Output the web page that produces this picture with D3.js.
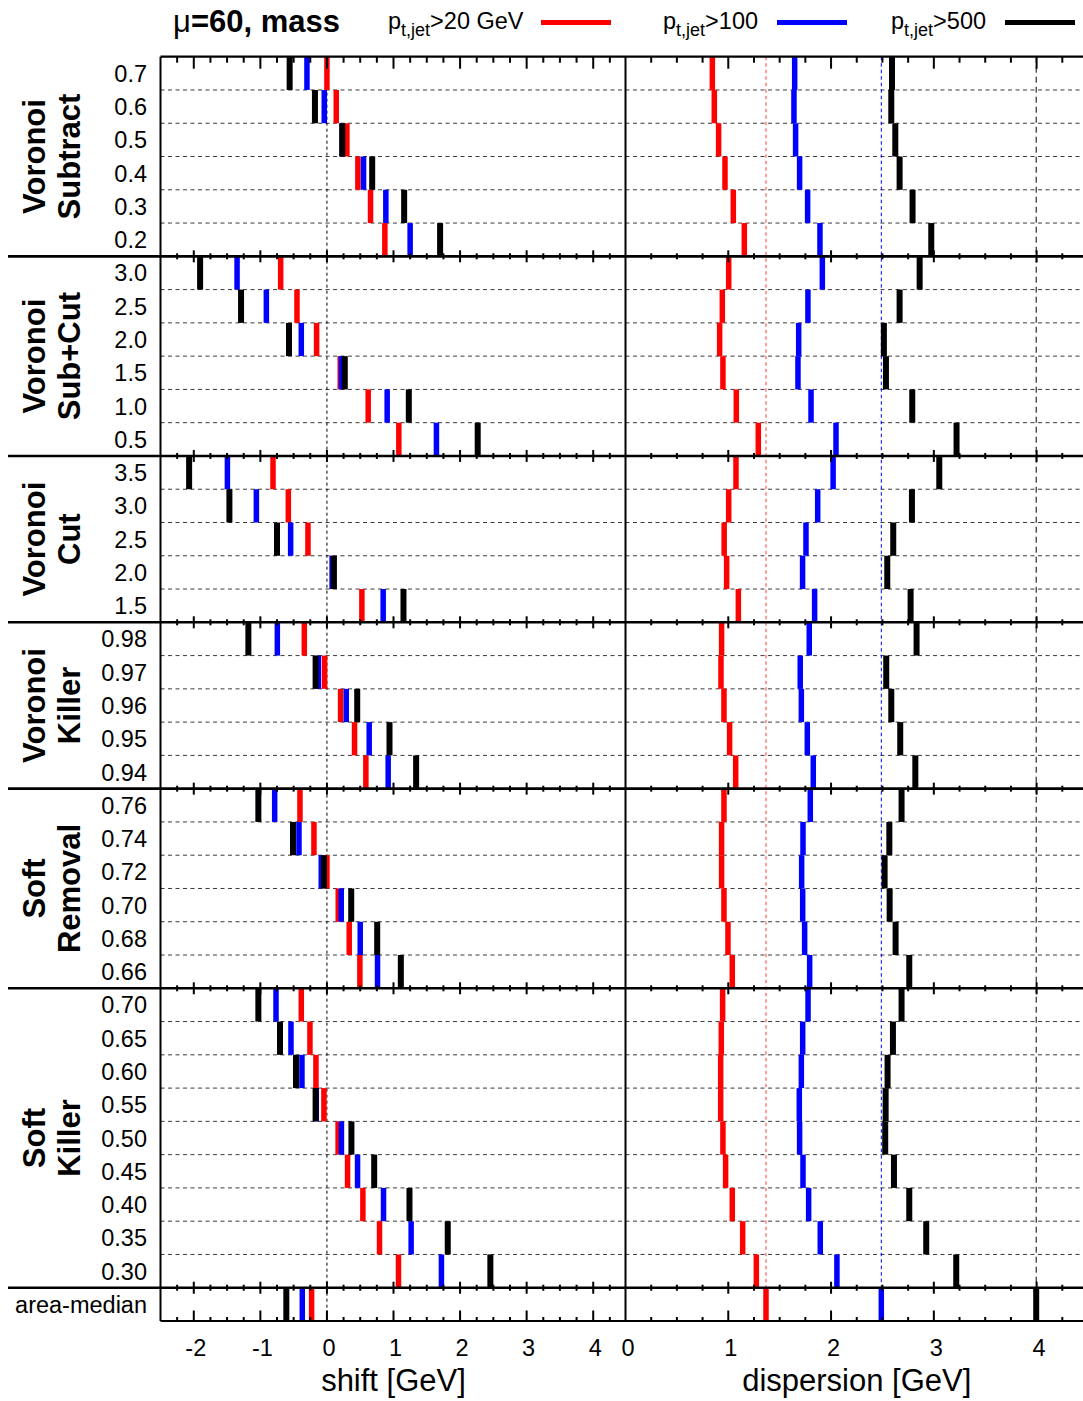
<!DOCTYPE html>
<html>
<head>
<meta charset="utf-8">
<script src="https://cdn.jsdelivr.net/npm/d3@7"></script>
<style>
  html, body { margin: 0; padding: 0; background: #fff; }
  svg { display: block; font-family: "Liberation Sans", Arial, Helvetica, sans-serif; }
</style>
</head>
<body>
<svg id="chart" width="1083" height="1401"></svg>
<script>
// ---- data -------------------------------------------------------------
const groupNames = [["Voronoi", "Subtract"], ["Voronoi", "Sub+Cut"], ["Voronoi", "Cut"],
                    ["Voronoi", "Killer"], ["Soft", "Removal"], ["Soft", "Killer"], [""]];
const groupRows = [
  ["0.7", "0.6", "0.5", "0.4", "0.3", "0.2"],
  ["3.0", "2.5", "2.0", "1.5", "1.0", "0.5"],
  ["3.5", "3.0", "2.5", "2.0", "1.5"],
  ["0.98", "0.97", "0.96", "0.95", "0.94"],
  ["0.76", "0.74", "0.72", "0.70", "0.68", "0.66"],
  ["0.70", "0.65", "0.60", "0.55", "0.50", "0.45", "0.40", "0.35", "0.30"],
  ["area-median"]
];
const seriesNames = ["20 GeV", "100", "500"];
const seriesColors = ["#ff0000", "#0000ff", "#000000"];

// shift [GeV], one value per row (rows in the order listed above)
const shiftPt20 = [0.00, 0.14, 0.30, 0.465, 0.655, 0.87,
  -0.695, -0.45, -0.155, 0.20, 0.62, 1.08,
  -0.81, -0.58, -0.285, 0.09, 0.525,
  -0.34, -0.035, 0.205, 0.415, 0.585,
  -0.405, -0.195, 0.0, 0.17, 0.335, 0.495,
  -0.385, -0.255, -0.165, -0.045, 0.168, 0.31, 0.54, 0.79, 1.075,
  -0.23];
const shiftPt100 = [-0.30, -0.04, 0.23, 0.55, 0.885, 1.25,
  -1.35, -0.91, -0.385, 0.218, 0.905, 1.645,
  -1.495, -1.06, -0.545, 0.078, 0.845,
  -0.745, -0.128, 0.29, 0.635, 0.92,
  -0.785, -0.42, -0.085, 0.215, 0.5, 0.76,
  -0.765, -0.54, -0.375, -0.16, 0.218, 0.46, 0.85, 1.265, 1.72,
  -0.37];
const shiftPt500 = [-0.56, -0.18, 0.23, 0.68, 1.16, 1.70,
  -1.905, -1.29, -0.57, 0.268, 1.23, 2.265,
  -2.07, -1.465, -0.75, 0.105, 1.15,
  -1.18, -0.17, 0.455, 0.94, 1.34,
  -1.03, -0.51, -0.045, 0.365, 0.755, 1.11,
  -1.03, -0.705, -0.465, -0.17, 0.368, 0.71, 1.24, 1.815, 2.455,
  -0.61];

// dispersion [GeV]
const dispPt20 = [0.845, 0.864, 0.906, 0.968, 1.049, 1.156,
  1.004, 0.942, 0.916, 0.948, 1.078, 1.292,
  1.075, 1.004, 0.96, 0.984, 1.098,
  0.935, 0.929, 0.958, 1.013, 1.072,
  0.958, 0.935, 0.935, 0.958, 0.997, 1.039,
  0.945, 0.932, 0.926, 0.926, 0.948, 0.974, 1.039, 1.14, 1.273,
  1.367];
const dispPt100 = [1.646, 1.639, 1.655, 1.694, 1.772, 1.892,
  1.915, 1.775, 1.685, 1.678, 1.805, 2.048,
  2.02, 1.87, 1.756, 1.723, 1.84,
  1.788, 1.70, 1.711, 1.769, 1.827,
  1.798, 1.727, 1.714, 1.724, 1.743, 1.792,
  1.776, 1.724, 1.711, 1.691, 1.694, 1.727, 1.782, 1.895, 2.057,
  2.489];
const dispPt500 = [2.593, 2.586, 2.625, 2.667, 2.793, 2.975,
  2.862, 2.667, 2.514, 2.534, 2.79, 3.221,
  3.053, 2.787, 2.605, 2.547, 2.774,
  2.832, 2.537, 2.586, 2.673, 2.82,
  2.686, 2.567, 2.521, 2.57, 2.628, 2.761,
  2.686, 2.602, 2.55, 2.531, 2.527, 2.612, 2.761, 2.926, 3.218,
  3.996];

const shiftTicks = [-2, -1, 0, 1, 2, 3, 4];
const dispTicks = [0, 1, 2, 3, 4];

// ---- layout -----------------------------------------------------------
const svg = d3.select("#chart");
const plotTop = 56.7, plotBottom = 1321;
const rowLabels = groupRows.flat();
const nRows = rowLabels.length;

const y = d3.scaleBand().domain(d3.range(nRows)).range([plotTop, plotBottom]).paddingInner(0).paddingOuter(0);
const xShift = d3.scaleLinear().domain([-2.5, 4.5]).range([160.5, 626.5]);
const xDisp = d3.scaleLinear().domain([0, 4.5]).range([625.5, 1088]);

// group boundaries (row index where each group starts)
const groupStart = [];
{ let k = 0; groupRows.forEach(g => { groupStart.push(k); k += g.length; }); }
const sepRows = groupStart.slice(1);           // separators between groups
const innerRows = d3.range(1, nRows).filter(i => !sepRows.includes(i));

// ---- dashed row grid --------------------------------------------------
svg.append("g").selectAll("line").data(innerRows).join("line")
  .attr("x1", xShift.range()[0]).attr("x2", 1083)
  .attr("y1", i => y(i)).attr("y2", i => y(i))
  .attr("stroke", "#3a3a3a").attr("stroke-width", 1).attr("stroke-dasharray", "4,3.5");

// ---- reference lines ---------------------------------------------------
const amIdx = nRows - 1;
svg.append("line")
  .attr("x1", xShift(0)).attr("x2", xShift(0))
  .attr("y1", plotTop).attr("y2", plotBottom)
  .attr("stroke", "#000").attr("stroke-width", 1).attr("stroke-dasharray", "3,3");

const refLines = [
  { v: dispPt20[amIdx], color: "#ff6a6a", dash: "3.5,3", w: 1.3 },
  { v: dispPt100[amIdx], color: "#0000ff", dash: "3.5,3", w: 1 },
  { v: dispPt500[amIdx], color: "#000000", dash: "6,4", w: 1 }
];
svg.append("g").selectAll("line").data(refLines).join("line")
  .attr("x1", d => xDisp(d.v)).attr("x2", d => xDisp(d.v))
  .attr("y1", plotTop).attr("y2", y(amIdx))
  .attr("stroke", d => d.color).attr("stroke-width", d => d.w).attr("stroke-dasharray", d => d.dash);

// ---- bars ---------------------------------------------------------------
const shiftSeries = [shiftPt20, shiftPt100, shiftPt500];
const dispSeries = [dispPt20, dispPt100, dispPt500];
const barW = [5.5, 5.5, 6];

function drawBars(series, x, cls) {
  series.forEach((vals, s) => {
    svg.append("g").attr("class", cls + s).selectAll("rect").data(vals).join("rect")
      .attr("x", v => x(v) - barW[s] / 2)
      .attr("y", (v, i) => y(i))
      .attr("width", barW[s])
      .attr("height", y.bandwidth())
      .attr("fill", seriesColors[s]);
  });
}
drawBars(shiftSeries, xShift, "shift");
drawBars(dispSeries, xDisp, "disp");

// ---- frames, separators, ticks -----------------------------------------
const frame = svg.append("g").attr("stroke", "#000");
frame.append("line").attr("x1", xShift.range()[0]).attr("x2", 1083)
  .attr("y1", plotTop).attr("y2", plotTop).attr("stroke-width", 2.2);
frame.append("line").attr("x1", xShift.range()[0]).attr("x2", 1083)
  .attr("y1", plotBottom).attr("y2", plotBottom).attr("stroke-width", 2.2);
frame.selectAll("line.sep").data(sepRows).join("line").attr("class", "sep")
  .attr("x1", 8).attr("x2", 1083)
  .attr("y1", i => y(i)).attr("y2", i => y(i)).attr("stroke-width", 2.6);
[xShift.range()[0], xDisp.range()[0]].forEach(xx => {
  frame.append("line").attr("x1", xx).attr("x2", xx)
    .attr("y1", plotTop).attr("y2", plotBottom).attr("stroke-width", 2);
});

function tickSet(x, lo, hi) {
  const out = [];
  for (let v = lo; v <= hi + 1e-9; v += 0.25) {
    const major = Math.abs(v - Math.round(v)) < 1e-9;
    out.push({ x: x(v), major });
  }
  return out;
}
const allTicks = tickSet(xShift, -2.25, 4.25).concat(tickSet(xDisp, 0.25, 4.25));
const tg = svg.append("g").attr("stroke", "#000").attr("stroke-width", 2);
// top border: inward
tg.selectAll(null).data(allTicks).join("line")
  .attr("x1", d => d.x).attr("x2", d => d.x)
  .attr("y1", plotTop).attr("y2", d => plotTop + (d.major ? 12 : 6));
// bottom border: inward
tg.selectAll(null).data(allTicks).join("line")
  .attr("x1", d => d.x).attr("x2", d => d.x)
  .attr("y1", plotBottom).attr("y2", d => plotBottom - (d.major ? 10.5 : 4));
// group separators: both sides
sepRows.forEach(i => {
  const yy = y(i);
  tg.selectAll(null).data(allTicks).join("line")
    .attr("x1", d => d.x).attr("x2", d => d.x)
    .attr("y1", d => yy - (d.major ? 6 : 3)).attr("y2", d => yy + (d.major ? 6 : 3));
});

// ---- tick labels and axis titles ---------------------------------------
const tl = svg.append("g").attr("font-size", 23.5).attr("text-anchor", "middle").attr("fill", "#000");
tl.selectAll(null).data(shiftTicks).join("text")
  .attr("x", d => xShift(d) + 2).attr("y", 1356).text(d => d);
tl.selectAll(null).data(dispTicks).join("text")
  .attr("x", d => xDisp(d) + 2.5).attr("y", 1356).text(d => d);

svg.append("text").attr("x", (xShift.range()[0] + xShift.range()[1]) / 2).attr("y", 1391)
  .attr("text-anchor", "middle").attr("font-size", 31).text("shift [GeV]");
svg.append("text").attr("x", (xDisp.range()[0] + xDisp.range()[1]) / 2).attr("y", 1391)
  .attr("text-anchor", "middle").attr("font-size", 31).text("dispersion [GeV]");

// ---- row labels ---------------------------------------------------------
svg.append("g").attr("font-size", 23.5).attr("text-anchor", "end")
  .selectAll("text").data(rowLabels).join("text")
  .attr("x", 147).attr("y", (d, i) => y(i) + y.bandwidth() / 2 + 8.5)
  .text(d => d);

// ---- group labels (rotated, two lines) ----------------------------------
groupNames.forEach((lines, g) => {
  if (!lines[0]) return;
  const i0 = groupStart[g], i1 = i0 + groupRows[g].length;
  const cy = (y(i0) + y(i1 - 1) + y.bandwidth()) / 2;
  const bx = [45, 80];
  lines.forEach((t, k) => {
    svg.append("text")
      .attr("transform", `translate(${bx[k]},${cy}) rotate(-90)`)
      .attr("text-anchor", "middle").attr("font-size", 31).attr("font-weight", "bold")
      .text(t);
  });
});

// ---- title and legend -----------------------------------------------------
const title = svg.append("text").attr("x", 173).attr("y", 32).attr("font-size", 31).attr("font-weight", "bold");
title.append("tspan").attr("font-weight", "normal").text("μ");
title.append("tspan").text("=60, mass");

const legendX = [388, 663, 891];
const legendLine = [[541, 611], [777, 847], [1005, 1075]];
seriesNames.forEach((name, s) => {
  const t = svg.append("text").attr("x", legendX[s]).attr("y", 29).attr("font-size", 23.5);
  t.append("tspan").text("p");
  t.append("tspan").attr("font-size", 18).attr("dy", 7).text("t,jet");
  t.append("tspan").attr("dy", -7).text(">" + name);
  svg.append("line")
    .attr("x1", legendLine[s][0]).attr("x2", legendLine[s][1])
    .attr("y1", 22.5).attr("y2", 22.5)
    .attr("stroke", seriesColors[s]).attr("stroke-width", 5);
});
</script>
</body>
</html>
